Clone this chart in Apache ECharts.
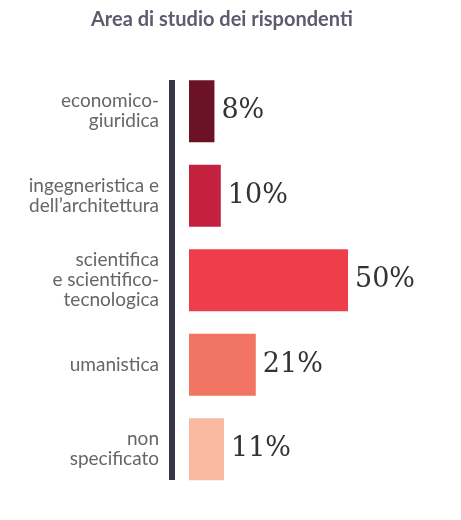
<!DOCTYPE html>
<html>
<head>
<meta charset="utf-8">
<script src="https://cdn.jsdelivr.net/npm/echarts@6/dist/echarts.min.js"></script>
<style>
html,body{margin:0;padding:0;background:#fff;}
#chart{width:461px;height:520px;}
</style>
</head>
<body>
<div id="chart"></div>
<script>
const categories = ['economico-\ngiuridica', 'ingegneristica e\ndell\u2019architettura', 'scientifica\ne scientifico-\ntecnologica', 'umanistica', 'non\nspecificato'];
const values = [8, 10, 50, 21, 11];
const barColors = ['#6b1226', '#c4213f', '#ee3d4b', '#f17562', '#f9b9a2'];

const chart = echarts.init(document.getElementById('chart'), null, {renderer: 'canvas'});
chart.setOption({
  animation: false,
  backgroundColor: '#ffffff',
  title: {
    text: 'Area di studio dei rispondenti',
    left: 86, top: 5,
    textStyle: {fontFamily: 'Lato', fontSize: 20, fontWeight: 'bold', color: '#5b5d6e'}
  },
  grid: [
    {left: 189, top: 69, width: 159, height: 422.5},
    {left: 172, top: 80, width: 100, height: 400}
  ],
  xAxis: [
    {gridIndex: 0, type: 'value', min: 0, max: 50, show: false},
    {gridIndex: 1, type: 'value', min: 0, max: 1, show: false}
  ],
  yAxis: [
    {
      gridIndex: 0, type: 'category', data: categories, inverse: true,
      axisLine: {show: false}, axisTick: {show: false},
      axisLabel: {margin: 30, fontFamily: 'Lato', fontSize: 19, lineHeight: 20, color: '#666666', align: 'right'}
    },
    {
      gridIndex: 1, type: 'value', min: 0, max: 1,
      axisLine: {show: true, onZero: false, lineStyle: {color: '#353746', width: 6, cap: 'butt'}},
      axisTick: {show: false}, axisLabel: {show: false}, splitLine: {show: false}
    }
  ],
  series: [{
    type: 'bar',
    xAxisIndex: 0, yAxisIndex: 0,
    data: values.map((v, i) => ({value: v, itemStyle: {color: barColors[i]}})),
    barWidth: 62,
    label: {
      show: true, position: 'right', distance: 7,
      formatter: p => p.value + '%',
      fontFamily: 'DejaVu Serif', fontSize: 27, color: '#333333'
    }
  }]
});
</script>
</body>
</html>
